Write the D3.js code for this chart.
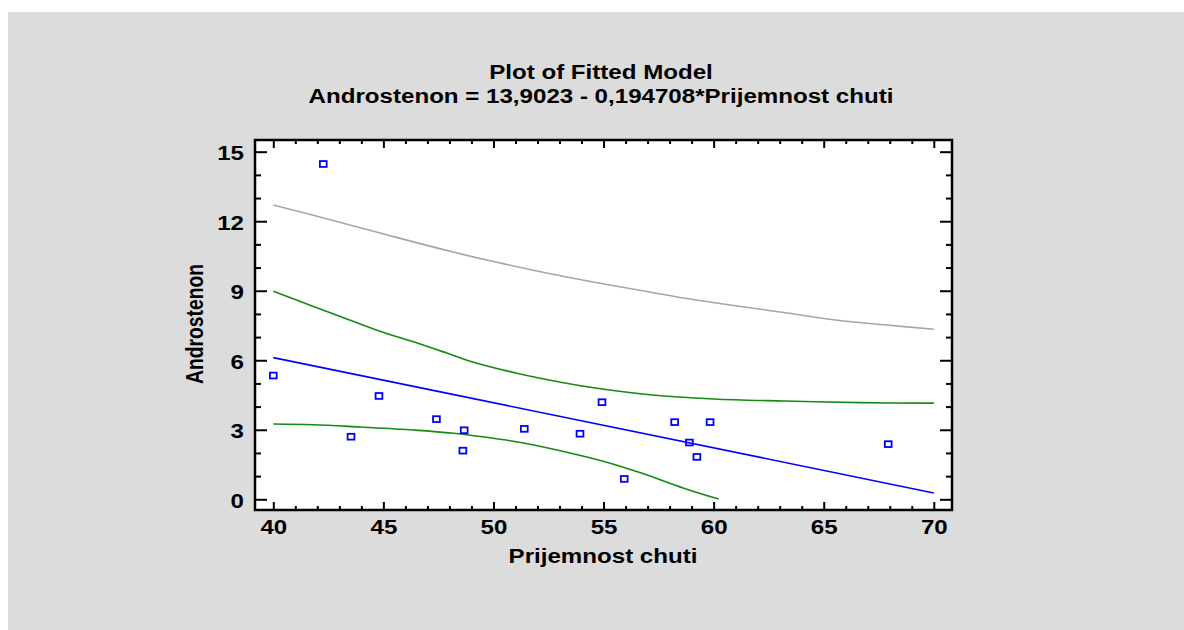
<!DOCTYPE html>
<html>
<head>
<meta charset="utf-8">
<script src="https://cdn.jsdelivr.net/npm/d3@7/dist/d3.min.js"></script>
<style>
  html, body { margin: 0; padding: 0; background: #ffffff; }
  svg { display: block; }
  text { font-family: "Liberation Sans", Arial, sans-serif; font-weight: bold; fill: #000; }
</style>
</head>
<body>
<svg id="chart" width="1184" height="630"></svg>
<script>
// Observations: Prijemnost chuti (x) vs Androstenon (y)
const obsX = [40.0, 42.27, 43.53, 44.8, 47.41, 48.61, 48.67, 51.4, 53.93, 54.93, 55.94, 58.23, 58.9, 59.24, 59.84, 67.93];
const obsY = [5.34, 14.47, 2.70, 4.46, 3.46, 2.10, 2.98, 3.04, 2.83, 4.19, 0.88, 3.33, 2.45, 1.83, 3.33, 2.38];

// Fitted model coefficients (as printed in the subtitle)
const intercept = 13.9023;
const slope = -0.194708;
const fitRange = [40, 70];

// Upper prediction limit
const predUpperX = [40, 41.9, 44.85, 48.03, 50, 52.58, 54.4, 56.97, 58.94, 60.91, 63.18, 65.45, 67.73, 70];
const predUpperY = [12.70, 12.24, 11.49, 10.70, 10.26, 9.73, 9.40, 8.97, 8.64, 8.36, 8.06, 7.75, 7.53, 7.34];

// Confidence limits for the mean
const confUpperX = [40, 41.82, 43.34, 44.85, 46.67, 47.88, 48.94, 51.06, 53.18, 54.7, 57.12, 60, 63.18, 66.67, 70];
const confUpperY = [8.98, 8.32, 7.78, 7.25, 6.70, 6.31, 5.96, 5.44, 5.03, 4.79, 4.51, 4.33, 4.24, 4.17, 4.15];
const confLowerX = [40, 41.82, 43.94, 46.36, 48.18, 50.3, 51.36, 53.33, 55.3, 56.82, 58.64, 60.23];
const confLowerY = [3.25, 3.22, 3.12, 2.99, 2.85, 2.59, 2.43, 2.03, 1.56, 1.10, 0.48, 0.01];

// Axis ticks
const xMajor = [40, 45, 50, 55, 60, 65, 70];
const yMajor = [0, 3, 6, 9, 12, 15];
const xMinor = d3.range(40, 71).filter(v => v % 5 !== 0);
const yMinor = d3.range(0, 16).filter(v => v % 3 !== 0);

const titleText = "Plot of Fitted Model";
const subtitleText = "Androstenon = 13,9023 - 0,194708*Prijemnost chuti";
const xLabel = "Prijemnost chuti";
const yLabel = "Androstenon";

// ---- layout ----
const frame = { left: 255, right: 952, top: 140, bottom: 510 };
const stretch = 1.25;     // wide lettering
const fontSize = 19.3;

const svg = d3.select("#chart");

svg.append("rect")
  .attr("x", 8).attr("y", 12).attr("width", 1176).attr("height", 618)
  .attr("fill", "#dcdcdc");

svg.append("rect")
  .attr("x", frame.left).attr("y", frame.top)
  .attr("width", frame.right - frame.left).attr("height", frame.bottom - frame.top)
  .attr("fill", "#ffffff");

const x = d3.scaleLinear().domain([40, 70]).range([273.3, 933.8]);
const y = d3.scaleLinear().domain([0, 15]).range([499.3, 151.7]);

svg.append("clipPath").attr("id", "plotClip")
  .append("rect")
  .attr("x", frame.left).attr("y", frame.top)
  .attr("width", frame.right - frame.left).attr("height", frame.bottom - frame.top);

const plot = svg.append("g").attr("clip-path", "url(#plotClip)");

const line = d3.line().x(d => x(d[0])).y(d => y(d[1])).curve(d3.curveCatmullRom.alpha(0.5));

function drawCurve(xs, ys, color) {
  plot.append("path")
    .datum(xs.map((v, i) => [v, ys[i]]))
    .attr("d", line)
    .attr("fill", "none")
    .attr("stroke", color)
    .attr("stroke-width", 1.6);
}

drawCurve(predUpperX, predUpperY, "#a6a6a6");
drawCurve(confUpperX, confUpperY, "#138a13");
drawCurve(confLowerX, confLowerY, "#138a13");

// fitted line
plot.append("path")
  .datum(fitRange.map(v => [v, intercept + slope * v]))
  .attr("d", d3.line().x(d => x(d[0])).y(d => y(d[1])))
  .attr("fill", "none")
  .attr("stroke", "#0000ff")
  .attr("stroke-width", 1.6);

// observed points
plot.selectAll("rect.obs")
  .data(obsX.map((v, i) => [v, obsY[i]]))
  .join("rect")
  .attr("class", "obs")
  .attr("x", d => x(d[0]) - 3.4)
  .attr("y", d => y(d[1]) - 2.9)
  .attr("width", 6.8)
  .attr("height", 5.8)
  .attr("fill", "none")
  .attr("stroke", "#0000ff")
  .attr("stroke-width", 1.8);

// ---- axes ----
function styleAxis(g) {
  g.select(".domain").remove();
  g.selectAll(".tick line").attr("stroke", "#000").attr("stroke-width", 2);
}

function addAxis(axis, tx, ty) {
  const g = svg.append("g").attr("transform", `translate(${tx},${ty})`).call(axis);
  styleAxis(g);
  return g;
}

// minor ticks
addAxis(d3.axisBottom(x).tickValues(xMinor).tickSizeInner(-4).tickSizeOuter(0).tickFormat(""), 0, frame.bottom);
addAxis(d3.axisTop(x).tickValues(xMinor).tickSizeInner(-4).tickSizeOuter(0).tickFormat(""), 0, frame.top);
addAxis(d3.axisLeft(y).tickValues(yMinor).tickSizeInner(-6).tickSizeOuter(0).tickFormat(""), frame.left, 0);
addAxis(d3.axisRight(y).tickValues(yMinor).tickSizeInner(-6).tickSizeOuter(0).tickFormat(""), frame.right, 0);

// major ticks
const gx = addAxis(d3.axisBottom(x).tickValues(xMajor).tickSizeInner(-8).tickSizeOuter(0).tickFormat(d3.format("d")), 0, frame.bottom);
addAxis(d3.axisTop(x).tickValues(xMajor).tickSizeInner(-8).tickSizeOuter(0).tickFormat(""), 0, frame.top);
const gy = addAxis(d3.axisLeft(y).tickValues(yMajor).tickSizeInner(-12).tickSizeOuter(0).tickFormat(d3.format("d")), frame.left, 0);
addAxis(d3.axisRight(y).tickValues(yMajor).tickSizeInner(-12).tickSizeOuter(0).tickFormat(""), frame.right, 0);

gx.selectAll(".tick text")
  .attr("font-size", fontSize)
  .attr("font-family", null)
  .attr("fill", "#000")
  .attr("y", 0).attr("dy", 0)
  .attr("transform", `translate(0,23.5) scale(${stretch},1)`);

gy.selectAll(".tick text")
  .attr("font-size", fontSize)
  .attr("font-family", null)
  .attr("fill", "#000")
  .attr("x", 0).attr("dy", "0.42em")
  .attr("text-anchor", "end")
  .attr("transform", `translate(-11,0) scale(${stretch},1)`);

// frame
svg.append("rect")
  .attr("x", frame.left).attr("y", frame.top)
  .attr("width", frame.right - frame.left).attr("height", frame.bottom - frame.top)
  .attr("fill", "none").attr("stroke", "#000").attr("stroke-width", 2.5);

// ---- titles and labels ----
function label(txt, tx, ty, rotate) {
  svg.append("text")
    .attr("text-anchor", "middle")
    .attr("font-size", fontSize)
    .attr("transform", `translate(${tx},${ty}) scale(${stretch},1)` + (rotate ? ` rotate(${rotate})` : ""))
    .text(txt);
}

label(titleText, 601, 79);
label(subtitleText, 601, 103);
label(xLabel, 603, 563);
label(yLabel, 203, 324, -90);
</script>
</body>
</html>
